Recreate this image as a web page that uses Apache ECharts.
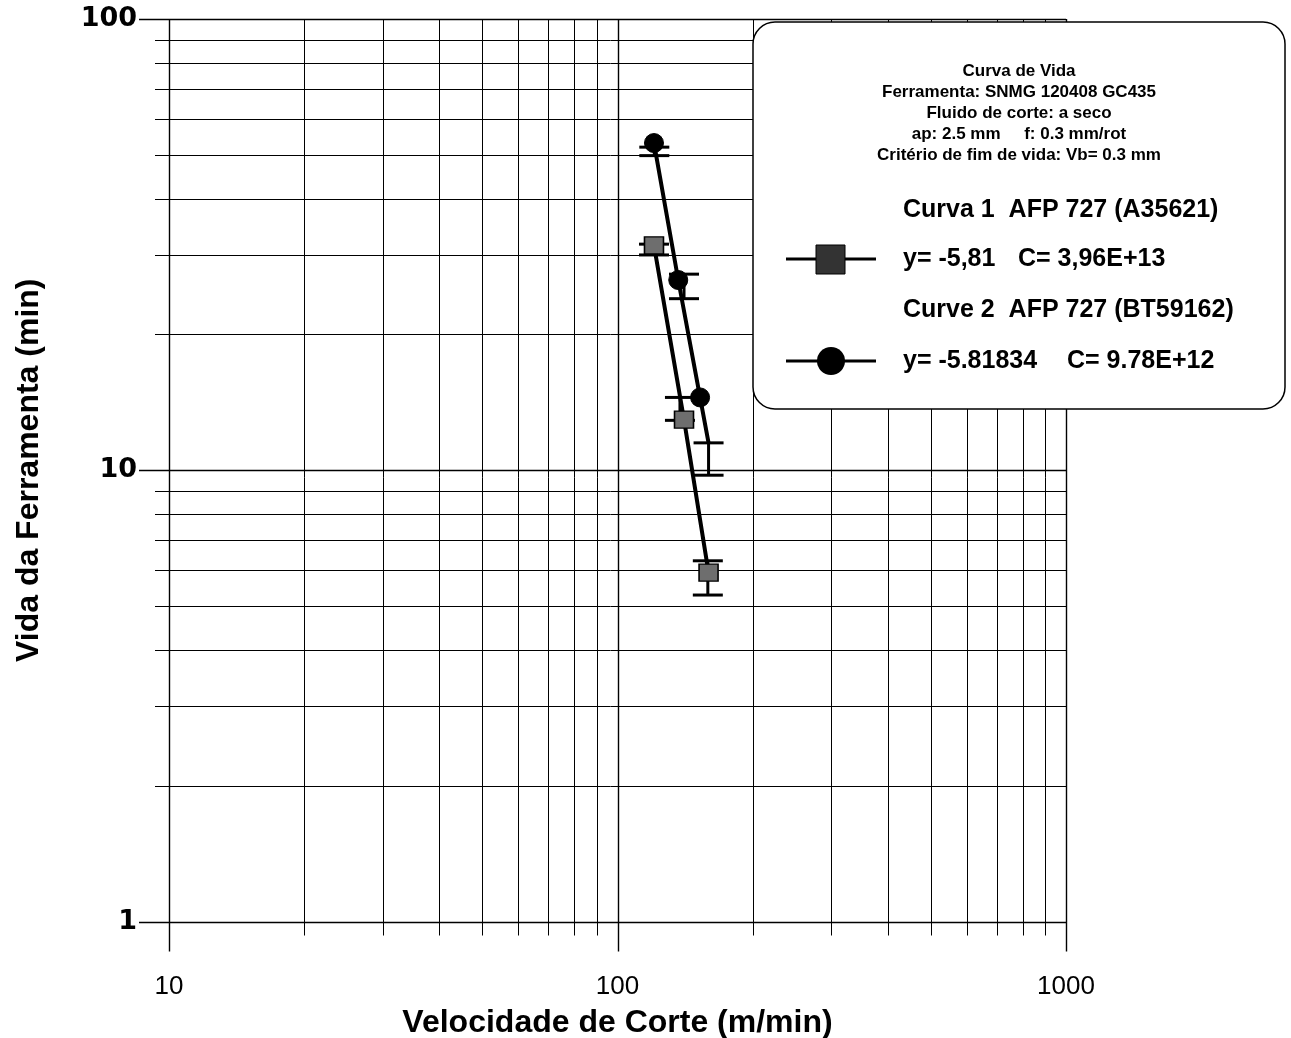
<!DOCTYPE html>
<html>
<head>
<meta charset="utf-8">
<script src="https://cdn.jsdelivr.net/npm/echarts@6/dist/echarts.min.js"></script>
<style>
  html, body { margin: 0; padding: 0; background: #fff; }
  #chart { width: 1291px; height: 1038px; }
</style>
</head>
<body>
<div id="chart"></div>
<script>
// Curve 1 – AFP 727 (A35621): cutting speed (m/min) vs tool life (min)
const curve1Speed = [120.6, 140.7, 159.6];
const curve1Life = [31.5, 12.95, 5.93];
// Curve 1 scatter bands
const curve1BarSpeed = [120.6, 137.8, 159.0];
const curve1BarLow = [30.0, 12.9, 5.29];
const curve1BarHigh = [31.7, 14.5, 6.30];

// Curve 2 – AFP 727 (BT59162)
const curve2Speed = [120.6, 136.6, 152.8, 159.6];
const curve2Life = [53.1, 26.4, 14.5, 11.5];
const curve2Marked = [true, true, true, false];
// Curve 2 scatter bands
const curve2BarSpeed = [120.8, 140.7, 159.6];
const curve2BarLow = [49.8, 24.0, 9.75];
const curve2BarHigh = [52.0, 27.2, 11.5];

// Log grid lines
const xGridValues = [10, 20, 30, 40, 50, 60, 70, 80, 90, 100, 200, 300, 400, 500, 600, 700, 800, 900, 1000];
const yGridValues = [1, 2, 3, 4, 5, 6, 7, 8, 9, 10, 20, 30, 40, 50, 60, 70, 80, 90, 100];

// Legend texts
const legendTitleLines = [
  'Curva de Vida',
  'Ferramenta: SNMG 120408 GC435',
  'Fluido de corte: a seco',
  'ap: 2.5 mm     f: 0.3 mm/rot',
  'Critério de fim de vida: Vb= 0.3 mm'
];
const curve1Name = 'Curva 1  AFP 727 (A35621)';
const curve1Fit = ['y= -5,81', 'C= 3,96E+13'];
const curve2Name = 'Curve 2  AFP 727 (BT59162)';
const curve2Fit = ['y= -5.81834', 'C= 9.78E+12'];

const X_MIN = 10, X_MAX = 1000, Y_MIN = 1, Y_MAX = 100;
const FONT = '"Liberation Sans", Arial, sans-serif';
const LEGEND_Z = 100;

function isDecade(v) {
  const l = Math.log10(v);
  return Math.abs(l - Math.round(l)) < 1e-9;
}
function crisp(p) { return Math.round(p) + 0.5; }

const chart = echarts.init(document.getElementById('chart'), null, { renderer: 'canvas' });

const xGridSeries = {
  type: 'custom',
  silent: true,
  clip: false,
  z: 1,
  data: xGridValues.map(v => [v, Y_MIN]),
  renderItem(params, api) {
    const v = api.value(0);
    const top = api.coord([v, Y_MAX]);
    const bot = api.coord([v, Y_MIN]);
    const ext = isDecade(v) ? 30 : 14;
    const x = crisp(top[0]);
    return {
      type: 'line',
      shape: { x1: x, y1: top[1], x2: x, y2: bot[1] + ext },
      style: { stroke: '#000', lineWidth: isDecade(v) ? 1.4 : 1 }
    };
  }
};

const yGridSeries = {
  type: 'custom',
  silent: true,
  clip: false,
  z: 1,
  data: yGridValues.map(v => [X_MIN, v]),
  renderItem(params, api) {
    const v = api.value(1);
    const left = api.coord([X_MIN, v]);
    const right = api.coord([X_MAX, v]);
    const ext = isDecade(v) ? 30 : 14;
    const y = crisp(left[1]);
    return {
      type: 'line',
      shape: { x1: left[0] - ext, y1: y, x2: right[0], y2: y },
      style: { stroke: '#000', lineWidth: isDecade(v) ? 1.4 : 1 }
    };
  }
};

function errorBarSeries(xs, lows, highs) {
  return {
    type: 'custom',
    silent: true,
    clip: false,
    z: 3,
    data: xs.map((x, i) => [x, lows[i], highs[i]]),
    renderItem(params, api) {
      const x = api.value(0);
      const lo = api.coord([x, api.value(1)]);
      const hi = api.coord([x, api.value(2)]);
      const half = 15;
      const st = { stroke: '#000', lineWidth: 3 };
      return {
        type: 'group',
        children: [
          { type: 'line', shape: { x1: lo[0], y1: lo[1], x2: hi[0], y2: hi[1] }, style: st },
          { type: 'line', shape: { x1: hi[0] - half, y1: hi[1], x2: hi[0] + half, y2: hi[1] }, style: st },
          { type: 'line', shape: { x1: lo[0] - half, y1: lo[1], x2: lo[0] + half, y2: lo[1] }, style: st }
        ]
      };
    }
  };
}

function legendText(x, y, text, size, align) {
  return {
    type: 'text', x, y, z: LEGEND_Z + 1,
    style: {
      text, fontFamily: FONT, fontWeight: 'bold', fontSize: size, fill: '#000',
      align: align || 'left', verticalAlign: 'middle'
    }
  };
}

const option = {
  backgroundColor: '#fff',
  animation: false,
  grid: { left: 169, top: 19, width: 897, height: 902.5, outerBoundsMode: 'none', containLabel: false },
  xAxis: {
    type: 'log',
    logBase: 10,
    min: X_MIN,
    max: X_MAX,
    axisLine: { show: false },
    axisTick: { show: false },
    splitLine: { show: false },
    axisLabel: {
      margin: 52,
      fontFamily: FONT,
      fontSize: 26,
      color: '#000',
      formatter: v => String(Math.round(v))
    },
    name: 'Velocidade de Corte (m/min)',
    nameLocation: 'middle',
    nameGap: 86,
    nameTextStyle: { fontFamily: FONT, fontWeight: 'bold', fontSize: 32, color: '#000' }
  },
  yAxis: {
    type: 'log',
    logBase: 10,
    min: Y_MIN,
    max: Y_MAX,
    axisLine: { show: false },
    axisTick: { show: false },
    splitLine: { show: false },
    axisLabel: {
      margin: 32,
      fontFamily: '"DejaVu Sans", sans-serif',
      fontWeight: 'bold',
      fontSize: 27,
      color: '#000',
      formatter: v => String(Math.round(v))
    },
    name: 'Vida da Ferramenta (min)',
    nameLocation: 'middle',
    nameRotate: 90,
    nameGap: 124,
    nameTextStyle: { fontFamily: FONT, fontWeight: 'bold', fontSize: 32, color: '#000' }
  },
  series: [
    xGridSeries,
    yGridSeries,
    errorBarSeries(curve1BarSpeed, curve1BarLow, curve1BarHigh),
    errorBarSeries(curve2BarSpeed, curve2BarLow, curve2BarHigh),
    {
      name: curve1Name,
      type: 'line',
      z: 4,
      data: curve1Speed.map((s, i) => [s, curve1Life[i]]),
      symbol: 'rect',
      symbolSize: [19, 17],
      showAllSymbol: true,
      lineStyle: { color: '#000', width: 4 },
      itemStyle: { color: '#6e6e6e', borderColor: '#000', borderWidth: 1.5 },
      emphasis: { disabled: true }
    },
    {
      name: curve2Name,
      type: 'line',
      z: 5,
      data: curve2Speed.map((s, i) => ({
        value: [s, curve2Life[i]],
        symbol: curve2Marked[i] ? 'circle' : 'none'
      })),
      symbol: 'circle',
      symbolSize: 19,
      showAllSymbol: true,
      lineStyle: { color: '#000', width: 4 },
      itemStyle: { color: '#000', borderColor: '#000', borderWidth: 1 },
      emphasis: { disabled: true }
    }
  ],
  graphic: [
    {
      type: 'rect', z: LEGEND_Z,
      shape: { x: 753, y: 22, width: 532, height: 387, r: 22 },
      style: { fill: '#fff', stroke: '#000', lineWidth: 1.5 }
    },
    ...legendTitleLines.map((t, i) => legendText(1019, 71 + i * 21.2, t, 17, 'center')),
    legendText(903, 210, curve1Name, 25),
    {
      type: 'line', z: LEGEND_Z + 1,
      shape: { x1: 786, y1: 259, x2: 876, y2: 259 },
      style: { stroke: '#000', lineWidth: 3 }
    },
    {
      type: 'rect', z: LEGEND_Z + 2,
      shape: { x: 816, y: 245, width: 29, height: 29 },
      style: { fill: '#333', stroke: '#000', lineWidth: 1 }
    },
    legendText(903, 259, curve1Fit[0], 25),
    legendText(1018, 259, curve1Fit[1], 25),
    legendText(903, 310, curve2Name, 25),
    {
      type: 'line', z: LEGEND_Z + 1,
      shape: { x1: 786, y1: 361, x2: 876, y2: 361 },
      style: { stroke: '#000', lineWidth: 3 }
    },
    {
      type: 'circle', z: LEGEND_Z + 2,
      shape: { cx: 831, cy: 361, r: 14 },
      style: { fill: '#000' }
    },
    legendText(903, 361, curve2Fit[0], 25),
    legendText(1067, 361, curve2Fit[1], 25)
  ]
};

chart.setOption(option);
</script>
</body>
</html>
